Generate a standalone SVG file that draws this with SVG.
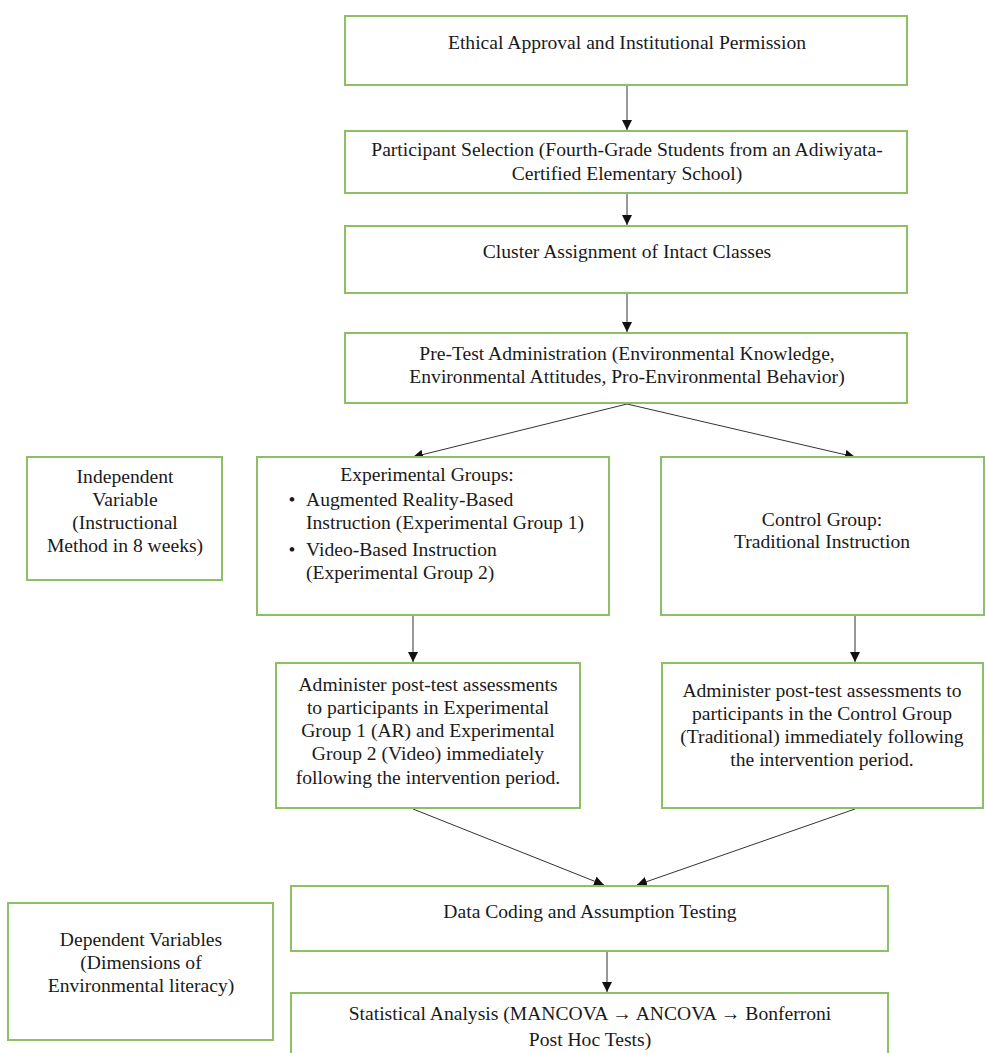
<svg xmlns="http://www.w3.org/2000/svg" width="986" height="1053" viewBox="0 0 986 1053">
<style>
.box{fill:#fff;stroke:#8cc063;stroke-width:2}
.t{font-family:"Liberation Serif","Times New Roman",serif;font-size:19.6px;fill:#1a1a1a;text-anchor:middle}
.l{text-anchor:start}
.c{stroke:#333;stroke-width:1;fill:none;marker-end:url(#ah)}
</style>
<defs>
<marker id="ah" viewBox="0 0 10 10" refX="10" refY="5" markerWidth="10" markerHeight="10" markerUnits="userSpaceOnUse" orient="auto">
<path d="M0,0 L10,5 L0,10 z" fill="#111"/>
</marker>
</defs>
<rect width="986" height="1053" fill="#fff"/>
<g id="connectors">
<line class="c" x1="627" y1="86" x2="627" y2="130"/>
<line class="c" x1="627" y1="194" x2="627" y2="225"/>
<line class="c" x1="627" y1="293" x2="627" y2="332"/>
<line class="c" x1="627" y1="404" x2="413" y2="457"/>
<line class="c" x1="627" y1="404" x2="855" y2="457"/>
<line class="c" x1="413" y1="616" x2="413" y2="662"/>
<line class="c" x1="855" y1="616" x2="855" y2="662"/>
<line class="c" x1="413" y1="809" x2="604" y2="885"/>
<line class="c" x1="855" y1="809" x2="637" y2="885"/>
<line class="c" x1="607" y1="951" x2="607" y2="992"/>
</g>
<g id="n1"><rect class="box" x="345" y="16" width="562" height="69"/>
<text class="t" x="627" y="49">Ethical Approval and Institutional Permission</text></g>
<g id="n2"><rect class="box" x="345" y="131" width="562" height="62"/>
<text class="t" x="627" y="156">Participant Selection (Fourth-Grade Students from an Adiwiyata-</text>
<text class="t" x="627" y="180">Certified Elementary School)</text></g>
<g id="n3"><rect class="box" x="345" y="226" width="562" height="67"/>
<text class="t" x="627" y="258">Cluster Assignment of Intact Classes</text></g>
<g id="n4"><rect class="box" x="345" y="333" width="562" height="70"/>
<text class="t" x="627" y="360">Pre-Test Administration (Environmental Knowledge,</text>
<text class="t" x="627" y="383">Environmental Attitudes, Pro-Environmental Behavior)</text></g>
<g id="n5"><rect class="box" x="27" y="457" width="195" height="123"/>
<text class="t" x="125" y="483">Independent</text>
<text class="t" x="125" y="506">Variable</text>
<text class="t" x="125" y="529">(Instructional</text>
<text class="t" x="125" y="552">Method in 8 weeks)</text></g>
<g id="n6"><rect class="box" x="257" y="457" width="352" height="158"/>
<text class="t" x="427" y="481">Experimental Groups:</text>
<text class="t" x="292" y="506">•</text>
<text class="t l" x="306" y="506">Augmented Reality-Based</text>
<text class="t l" x="306" y="529">Instruction (Experimental Group 1)</text>
<text class="t" x="292" y="556">•</text>
<text class="t l" x="306" y="556">Video-Based Instruction</text>
<text class="t l" x="306" y="579">(Experimental Group 2)</text></g>
<g id="n7"><rect class="box" x="661" y="457" width="323" height="158"/>
<text class="t" x="822" y="526">Control Group:</text>
<text class="t" x="822" y="548">Traditional Instruction</text></g>
<g id="n8"><rect class="box" x="276" y="663" width="304" height="145"/>
<text class="t" x="428" y="691">Administer post-test assessments</text>
<text class="t" x="428" y="714">to participants in Experimental</text>
<text class="t" x="428" y="737">Group 1 (AR) and Experimental</text>
<text class="t" x="428" y="760">Group 2 (Video) immediately</text>
<text class="t" x="428" y="784">following the intervention period.</text></g>
<g id="n9"><rect class="box" x="662" y="663" width="321" height="145"/>
<text class="t" x="822" y="697">Administer post-test assessments to</text>
<text class="t" x="822" y="720">participants in the Control Group</text>
<text class="t" x="822" y="743">(Traditional) immediately following</text>
<text class="t" x="822" y="766">the intervention period.</text></g>
<g id="n10"><rect class="box" x="291" y="886" width="597" height="65"/>
<text class="t" x="590" y="918">Data Coding and Assumption Testing</text></g>
<g id="n11"><rect class="box" x="8" y="903" width="265" height="137"/>
<text class="t" x="141" y="946">Dependent Variables</text>
<text class="t" x="141" y="969">(Dimensions of</text>
<text class="t" x="141" y="992">Environmental literacy)</text></g>
<g id="n12"><rect class="box" x="291" y="993" width="597" height="70"/>
<text class="t" x="590" y="1020">Statistical Analysis (MANCOVA → ANCOVA → Bonferroni</text>
<text class="t" x="590" y="1046">Post Hoc Tests)</text></g>
</svg>
